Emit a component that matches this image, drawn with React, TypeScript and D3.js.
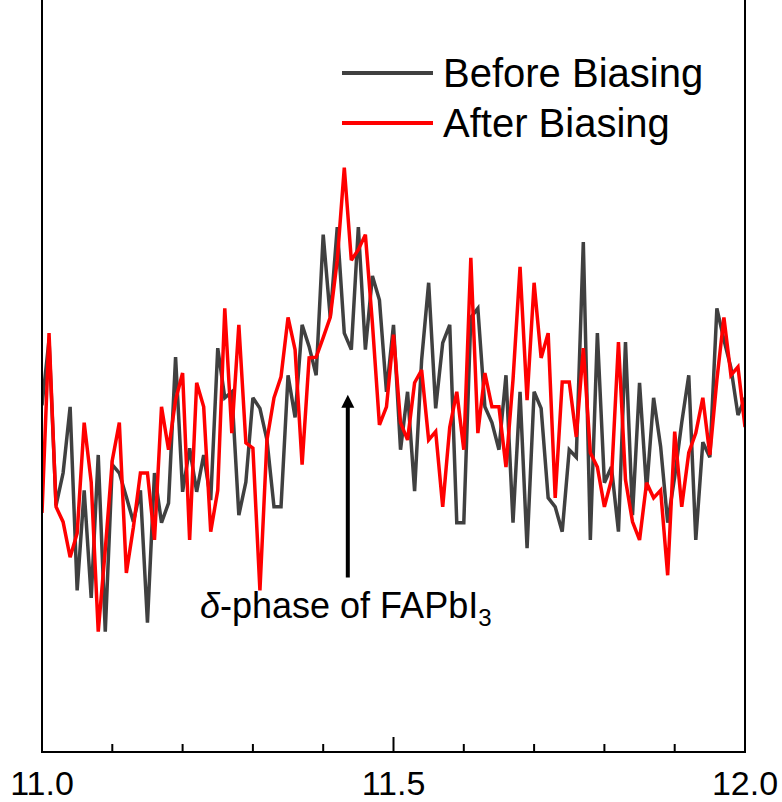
import React from "react";
import * as d3 from "d3";

// 2θ (degrees) from 11.00 to 12.00 in 0.01 steps
const twoTheta: number[] = Array.from({ length: 101 }, (_, i) => +(11 + i * 0.01).toFixed(2));

// Intensity (a.u.)
const beforeBiasing: number[] = [
  46.1, 54.8, 32.8, 37.1, 45.9, 21.5, 34.8, 20.5, 39.5, 16.0,
  38.2, 37.1, 33.9, 30.6, 34.8, 17.2, 37.1, 30.5, 33.1, 52.5,
  34.6, 40.4, 34.6, 39.5, 33.5, 53.7, 47.1, 47.9, 31.5, 35.9,
  47.1, 45.7, 41.5, 32.6, 32.6, 50.1, 44.5, 56.8, 53.9, 50.1,
  68.8, 57.8, 69.8, 55.7, 53.5, 69.8, 53.5, 63.3, 60.1, 47.9,
  56.8, 40.2, 47.9, 34.7, 52.1, 62.4, 45.7, 54.4, 56.8, 30.5,
  30.5, 57.8, 59.0, 45.9, 43.8, 40.2, 50.1, 30.5, 47.9, 27.1,
  47.9, 45.7, 33.8, 32.6, 29.3, 40.2, 39.2, 67.8, 28.2, 55.7,
  35.8, 37.9, 29.3, 54.5, 31.5, 49.1, 34.8, 47.1, 40.6, 30.5,
  36.6, 43.8, 50.1, 28.2, 41.2, 39.2, 59.0, 54.8, 51.1, 44.8,
  47.1,
];

const afterBiasing: number[] = [
  31.8, 55.7, 32.6, 30.6, 25.9, 29.1, 43.8, 35.9, 16.0, 26.9,
  38.8, 43.8, 23.8, 29.9, 37.1, 37.1, 28.2, 45.9, 40.2, 46.8,
  50.4, 28.2, 49.1, 45.9, 29.3, 34.8, 59.0, 42.4, 56.8, 41.1,
  40.4, 21.5, 41.5, 47.1, 49.9, 57.8, 53.5, 38.2, 52.4, 52.5,
  55.1, 57.8, 65.4, 77.7, 65.4, 66.8, 68.8, 57.0, 43.5, 45.9,
  55.5, 43.8, 41.5, 49.1, 50.8, 41.5, 42.6, 32.6, 43.2, 47.9,
  40.2, 65.7, 42.4, 50.4, 45.9, 45.9, 37.9, 49.5, 64.5, 46.8,
  62.4, 52.4, 55.7, 33.8, 49.2, 49.2, 41.9, 53.7, 39.8, 37.9,
  32.6, 36.2, 54.5, 36.2, 30.6, 28.2, 35.8, 33.8, 34.8, 23.5,
  42.6, 32.6, 39.8, 42.4, 47.1, 39.5, 49.5, 57.8, 50.1, 51.2,
  43.2,
];

const majorTicks: number[] = [11.0, 11.5, 12.0];
const minorTicks: number[] = [11.1, 11.2, 11.3, 11.4, 11.6, 11.7, 11.8, 11.9];
const seriesNames: string[] = ["Before Biasing", "After Biasing"];
const seriesColors: string[] = ["#404040", "#ff0000"];
const annotationX = 11.435;
const annotationY: [number, number] = [23.2, 47.5];

const W = 782;
const H = 802;
const left = 42;
const right = 745;
const top = 0;
const bottom = 752;
const FONT = "'Liberation Sans', Arial, sans-serif";

export default function App() {
  const x = d3.scaleLinear().domain([11, 12]).range([left, right]);
  const y = d3.scaleLinear().domain([0, 100]).range([bottom, top]);
  const line = d3
    .line<number>()
    .x((_, i) => x(twoTheta[i]))
    .y((d) => y(d));

  const series = [beforeBiasing, afterBiasing];
  const ax = x(annotationX);
  const ay0 = y(annotationY[0]);
  const ay1 = y(annotationY[1]);

  return (
    <svg
      width={W}
      height={H}
      style={{ position: "absolute", left: 0, top: 0, display: "block", background: "#fff" }}
    >
      <defs>
        <clipPath id="plot">
          <rect x={left} y={top} width={right - left} height={bottom - top} />
        </clipPath>
      </defs>
      <g clipPath="url(#plot)">
        {series.map((s, k) => (
          <path
            key={k}
            d={line(s) || ""}
            fill="none"
            stroke={seriesColors[k]}
            strokeWidth={3.5}
            strokeLinejoin="miter"
            strokeMiterlimit={3}
          />
        ))}
      </g>
      {/* axes */}
      <line x1={left} x2={left} y1={top} y2={bottom + 1} stroke="#000" strokeWidth={2} />
      <line x1={right} x2={right} y1={top} y2={bottom + 1} stroke="#000" strokeWidth={2} />
      <line x1={left - 1} x2={right + 1} y1={bottom} y2={bottom} stroke="#000" strokeWidth={2} />
      {majorTicks.map((t) => (
        <g key={"M" + t}>
          <line x1={x(t)} x2={x(t)} y1={bottom} y2={bottom - 15} stroke="#000" strokeWidth={2} />
          <text
            x={x(t)}
            y={795}
            textAnchor="middle"
            fontFamily={FONT}
            fontSize={34}
            fill="#000"
          >
            {t.toFixed(1)}
          </text>
        </g>
      ))}
      {minorTicks.map((t) => (
        <line key={"m" + t} x1={x(t)} x2={x(t)} y1={bottom} y2={bottom - 8} stroke="#000" strokeWidth={2} />
      ))}
      {/* legend */}
      {seriesNames.map((n, k) => (
        <g key={n}>
          <line
            x1={342}
            x2={433}
            y1={73 + k * 50}
            y2={73 + k * 50}
            stroke={seriesColors[k]}
            strokeWidth={4}
          />
          <text x={443} y={87 + k * 50} fontFamily={FONT} fontSize={40} fill="#000">
            {n}
          </text>
        </g>
      ))}
      {/* annotation arrow */}
      <line x1={ax} x2={ax} y1={ay0} y2={ay1 + 10} stroke="#000" strokeWidth={4} />
      <path
        d={`M${ax},${ay1} L${ax - 6.5},${ay1 + 13} L${ax + 6.5},${ay1 + 13} Z`}
        fill="#000"
      />
      <text x={200} y={618} fontFamily={FONT} fontSize={36} fill="#000">
        <tspan fontStyle="italic">δ</tspan>
        <tspan>-phase of FAPbI</tspan>
        <tspan fontSize={24} dy={8}>3</tspan>
      </text>
    </svg>
  );
}
